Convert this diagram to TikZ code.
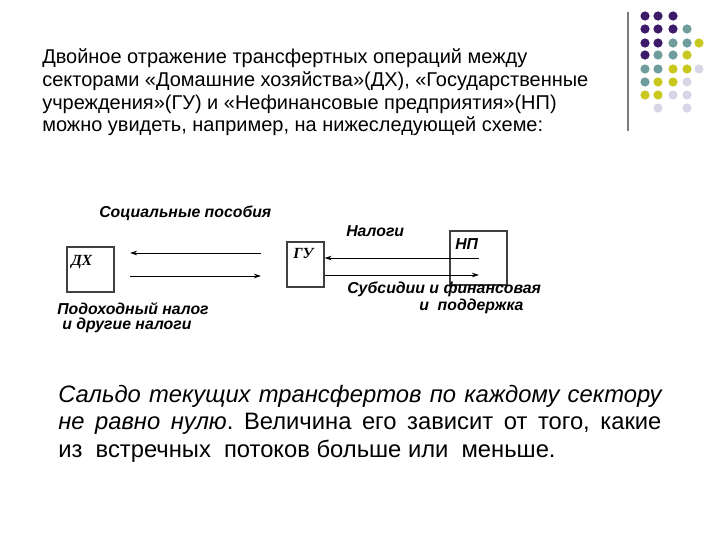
\documentclass[tikz,border=0pt]{standalone}
\usepackage{fontspec}
\setmainfont{Liberation Sans}
\newfontfamily\boxfont{Liberation Serif}
\usetikzlibrary{arrows.meta}
\frenchspacing

\definecolor{dotpurple}{HTML}{3D1A6A}
\definecolor{dotteal}{HTML}{6F9C9C}
\definecolor{dotyellow}{HTML}{C8C81F}
\definecolor{dotlilac}{HTML}{D6D6E6}
\definecolor{rulegray}{HTML}{7A7A7A}

\begin{document}
\begin{tikzpicture}[x=0.025cm,y=-0.025cm,
  sector/.style={draw=black!75,line width=0.8pt,inner sep=0pt},
  sectorname/.style={font=\boxfont\fontsize{11}{13}\selectfont\bfseries\itshape,inner sep=0pt,anchor=base west},
  flowlabel/.style={font=\fontsize{11.25}{13}\selectfont\bfseries\itshape,inner sep=0pt,anchor=base west},
  flow/.style={-{Stealth[length=5pt,width=3.2pt]},line width=0.6pt},
  headline/.style={font=\fontsize{14.2}{16}\selectfont,inner sep=0pt,anchor=base west},
  bodyline/.style={font=\fontsize{16.9}{19}\selectfont,inner sep=0pt,anchor=base west}]
\useasboundingbox (0,0) rectangle (720,540);

% decoration in the corner
\draw[rulegray,line width=1.4pt] (628,12)--(628,131);
\fill[dotpurple] (645,16) circle (4.6) (658,16) circle (4.6) (673,16) circle (4.6)
  (645,29) circle (4.6) (658,29) circle (4.6) (673,29) circle (4.6)
  (645,43) circle (4.6) (658,43) circle (4.6)
  (645,55) circle (4.6);
\fill[dotteal] (687,29) circle (4.6)
  (673,43) circle (4.6) (687,43) circle (4.6)
  (658,55) circle (4.6) (673,55) circle (4.6)
  (645,69) circle (4.6) (658,69) circle (4.6)
  (645,82) circle (4.6);
\fill[dotyellow] (699,43) circle (4.6)
  (687,55) circle (4.6)
  (673,69) circle (4.6) (687,69) circle (4.6)
  (658,82) circle (4.6) (673,82) circle (4.6)
  (645,95) circle (4.6) (658,95) circle (4.6);
\fill[dotlilac] (699,69) circle (4.6)
  (687,82) circle (4.6)
  (673,95) circle (4.6) (687,95) circle (4.6)
  (658,108) circle (4.6) (687,108) circle (4.6);

% heading
\node[headline] (head1) at (42,63) {Двойное отражение трансфертных операций между};
\node[headline] (head2) at (42,86) {секторами «Домашние хозяйства»(ДХ), «Государственные};
\node[headline] (head3) at (42,109) {учреждения»(ГУ) и «Нефинансовые предприятия»(НП)};
\node[headline] (head4) at (42,131) {можно увидеть, например, на нижеследующей схеме:};

% sectors
\node[sector,minimum width=1.175cm,minimum height=1.125cm] (dx) at (90.5,269.5) {};
\node[sector,minimum width=0.925cm,minimum height=1.125cm] (gu) at (305.5,264.5) {};
\node[sector,minimum width=1.425cm,minimum height=1.35cm] (np) at (478.5,258) {};
\node[sectorname] (dxname) at (71,265) {ДХ};
\node[sectorname] (guname) at (293,258) {ГУ};
\node[flowlabel] (npname) at (455,249) {НП};

% flows
\coordinate (dxtop) at (130,253);
\coordinate (dxbot) at (130,276);
\coordinate (gutop) at (261,253);
\coordinate (gubot) at (261,276);
\coordinate (nptop) at (479,258);
\coordinate (npbot) at (479,275);
\draw[flow] (gutop)--(dxtop);
\draw[flow] (dxbot)--(gubot);
\draw[flow] (nptop)--(gu.east|-nptop);
\draw[flow] (gu.east|-npbot)--(npbot);

\node[flowlabel] (social) at (99,217) {Социальные пособия};
\node[flowlabel] (taxes) at (346,236) {Налоги};
\node[flowlabel] (subsidy1) at (347,293) {Субсидии и финансовая};
\node[flowlabel] (subsidy2) at (419,310) {и\ \ поддержка};
\node[flowlabel] (income1) at (57,314) {Подоходный налог};
\node[flowlabel] (income2) at (62,329) {и другие налоги};

% conclusion
\node[bodyline] (body1) at (58,402) {\makebox[15.075cm][s]{\itshape Сальдо текущих трансфертов по каждому сектору}};
\node[bodyline] (body2) at (58,429) {\makebox[15.075cm][s]{\textit{не равно нулю}. Величина его зависит от того, какие}};
\node[bodyline] (body3) at (58,457) {из\ \ встречных\ \ потоков больше или\ \ меньше.};
\end{tikzpicture}
\end{document}
